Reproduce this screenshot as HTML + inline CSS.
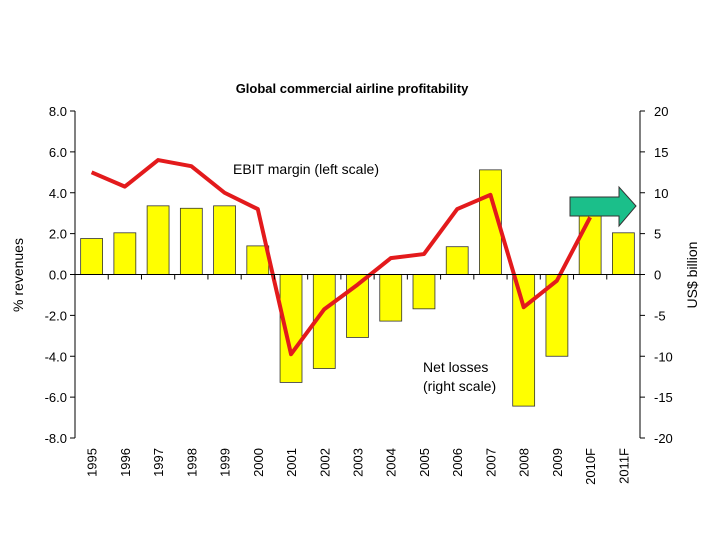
<!DOCTYPE html>
<html><head><meta charset="utf-8"><style>
body{margin:0;background:#fff;}
svg text{font-family:"Liberation Sans",Arial,sans-serif;}
</style></head><body>
<svg id="chart" width="720" height="540" xmlns="http://www.w3.org/2000/svg">
<text x="352" y="93" text-anchor="middle" font-size="13" font-weight="bold">Global commercial airline profitability</text>
<g id="grid"></g><g id="bars"></g><g id="line"></g><g id="axes"></g>
<text x="233" y="174" font-size="14">EBIT margin (left scale)</text>
<text x="423" y="372" font-size="14">Net losses</text>
<text x="423" y="391" font-size="14">(right scale)</text>
<text transform="translate(23,275) rotate(-90)" text-anchor="middle" font-size="14">% revenues</text>
<text transform="translate(697,275) rotate(-90)" text-anchor="middle" font-size="14">US$ billion</text>
<polygon points="570,197 619,197 619,187 636,206 619,226 619,216 570,216" fill="#1bbf8a" stroke="#333" stroke-width="1"/>
</svg>
<script>
const categories=["1995","1996","1997","1998","1999","2000","2001","2002","2003","2004","2005","2006","2007","2008","2009","2010F","2011F"];
const netProfit=[4.4,5.1,8.4,8.1,8.4,3.5,-13.2,-11.5,-7.7,-5.7,-4.2,3.4,12.8,-16.1,-10.0,8.5,5.1];
const ebitMargin=[5.0,4.3,5.6,5.3,4.0,3.2,-3.9,-1.7,-0.5,0.8,1.0,3.2,3.9,-1.6,-0.3,2.8,null];
const leftTicks=[8,6,4,2,0,-2,-4,-6,-8];
const rightTicks=[20,15,10,5,0,-5,-10,-15,-20];
const NS="http://www.w3.org/2000/svg";
const X0=75,X1=640,Y0=111,Y1=438;
const bw=(X1-X0)/categories.length;
const yL=v=>Y0+(8-v)/16*(Y1-Y0);
const yR=v=>Y0+(20-v)/40*(Y1-Y0);
const xc=i=>X0+bw*(i+0.5);
function mk(t,a,p){const e=document.createElementNS(NS,t);for(const k in a)e.setAttribute(k,a[k]);document.getElementById(p).appendChild(e);return e;}
netProfit.forEach((v,i)=>{
 const y0=yR(0),y=yR(v);
 const r=mk('rect',{x:xc(i)-bw*0.33,y:Math.min(y,y0),width:bw*0.66,height:Math.abs(y-y0),fill:'#ffff00',stroke:'#333','stroke-width':0.8},'bars');
 
 
});
let d='';ebitMargin.forEach((v,i)=>{if(v===null)return;d+=(d?'L':'M')+xc(i)+','+yL(v);});
const pl=mk('path',{d:d,fill:'none',stroke:'#e31a1c','stroke-width':4,'stroke-linejoin':'round'},'line');


const ax=(a)=>mk('line',Object.assign({stroke:'#000','stroke-width':1},a),'axes');
ax({x1:X0,y1:Y0,x2:X0,y2:Y1});ax({x1:X1,y1:Y0,x2:X1,y2:Y1});ax({x1:X0,y1:yL(0),x2:X1,y2:yL(0)});
leftTicks.forEach(v=>{
 ax({x1:X0-5,y1:yL(v),x2:X0,y2:yL(v)});
 const t=mk('text',{x:X0-8,y:yL(v)+5,'text-anchor':'end','font-size':13},'axes');t.textContent=v.toFixed(1);
 
 
});
rightTicks.forEach(v=>{
 ax({x1:X1,y1:yR(v),x2:X1+5,y2:yR(v)});
 const t=mk('text',{x:X1+14,y:yR(v)+5,'font-size':13},'axes');t.textContent=v;
 
 
});
categories.forEach((c,i)=>{
 ax({x1:X0+bw*i,y1:yL(0),x2:X0+bw*i,y2:yL(0)+5});
 const t=mk('text',{transform:`translate(${xc(i)+5},448) rotate(-90)`,'text-anchor':'end','font-size':13},'axes');t.textContent=c;
 
 
});
</script>
</body></html>
